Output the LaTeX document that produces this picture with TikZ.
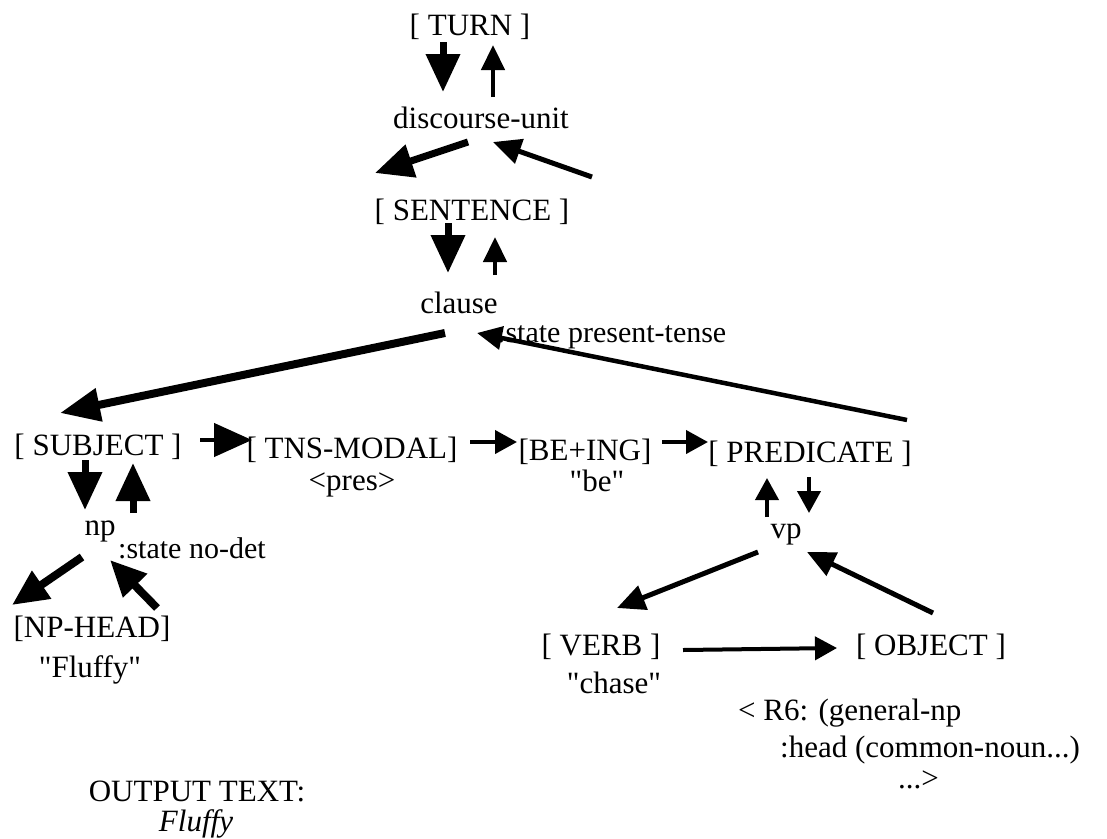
\documentclass[tikz,border=0pt]{standalone}
\usepackage{fontspec}
\setmainfont{Liberation Serif}[Ligatures=TeXOff]
\usetikzlibrary{arrows.meta}
\begin{document}
\begin{tikzpicture}[x=1pt,y=-1pt,
  txt/.style={inner sep=0pt,anchor=base,font=\fontsize{31}{37}\selectfont},
  sub/.style={inner sep=0pt,anchor=base west,font=\fontsize{30}{36}\selectfont},
  thick arr/.style={line width=7pt,-{Triangle[length=38pt,width=33pt]}},
  heavy arr/.style={line width=8pt,-{Triangle[length=40pt,width=32pt]}},
  thin arr/.style={line width=4.5pt,-{Triangle[length=25pt,width=23pt]}},
  mid arr/.style={line width=5pt,-{Triangle[length=28pt,width=25pt]}},
  small arr/.style={line width=4pt,-{Triangle[length=22pt,width=23pt]}},
  fat head arr/.style={line width=4.5pt,-{Triangle[length=38pt,width=33pt]}},
  np arr/.style={line width=8pt,-{Triangle[length=36pt,width=32pt]}}]
\useasboundingbox (0,0) rectangle (1107,838);
% nodes
\node[txt] (turn) at (470,35) {[ TURN ]};
\node[txt] (du) at (481,128) {discourse-unit};
\node[txt] (sent) at (472,220) {[ SENTENCE ]};
\node[txt] (clause) at (459,313) {clause};
\node[sub] (cst) at (497,342) {:state present-tense};
\node[txt] (subj) at (98,455) {[ SUBJECT ]};
\node[txt] (tns) at (352,458) {[ TNS-MODAL]};
\node[txt] (pres) at (352,490) {<pres>};
\node[txt] (be) at (585,460) {[BE+ING]};
\node[txt] (beq) at (597,491) {"be"};
\node[txt] (pred) at (810,462) {[ PREDICATE ]};
\node[txt] (np) at (100,535) {np};
\node[sub] (npst) at (118,558) {:state no-det};
\node[txt] (nphead) at (92,637) {[NP-HEAD]};
\node[txt] (fluffyq) at (90,677) {"Fluffy"};
\node[txt] (vp) at (786,538) {vp};
\node[txt] (verb) at (601,655) {[ VERB ]};
\node[txt] (chase) at (614,693) {"chase"};
\node[txt] (obj) at (931,655) {[ OBJECT ]};
\node[txt,anchor=base west] (r6a) at (738,720) {< R6: (general-np};
\node[txt,anchor=base west] (r6b) at (780,757) {:head (common-noun...)};
\node[txt,anchor=base west] (r6c) at (898,788) {...>};
\node[txt] (out) at (197,801) {OUTPUT TEXT:};
\node[txt] (outf) at (196,831) {\itshape Fluffy};
% connectors
\draw[thick arr] ([shift={(-27,7)}]turn.base) -- ([shift={(-38,-36)}]du.base);
\draw[thin arr] ([shift={(12,-31)}]du.base) -- ([shift={(23,10)}]turn.base);
\draw[thick arr] ([shift={(-13,14)}]du.base) -- ([shift={(-97,-47)}]sent.base);
\draw[mid arr] ([shift={(120,-43)}]sent.base) -- ([shift={(12,14)}]du.base);
\draw[thick arr] ([shift={(-24,3)}]sent.base) -- ([shift={(-11,-40)}]clause.base);
\draw[thin arr] ([shift={(36,-38)}]clause.base) -- ([shift={(23,17)}]sent.base);
\draw[heavy arr] ([shift={(-14,20)}]clause.base) -- ([shift={(-38,-42)}]subj.base);
\draw[thin arr] ([shift={(97,-42)}]pred.base) -- ([shift={(18,20)}]clause.base);
\draw[fat head arr] ([shift={(102,-15)}]subj.base) -- ([shift={(-100,-18)}]tns.base);
\draw[small arr] ([shift={(118,-16)}]tns.base) -- ([shift={(-68,-18)}]be.base);
\draw[small arr] ([shift={(77,-18)}]be.base) -- ([shift={(-102,-20)}]pred.base);
\draw[thick arr] ([shift={(-13,5)}]subj.base) -- ([shift={(-15,-25)}]np.base);
\draw[thick arr] ([shift={(33,-22)}]np.base) -- ([shift={(35,8)}]subj.base);
\draw[np arr] ([shift={(-18,22)}]np.base) -- ([shift={(-80,-32)}]nphead.base);
\draw[np arr] ([shift={(65,-29)}]nphead.base) -- ([shift={(10,25)}]np.base);
\draw[small arr] ([shift={(-19,-21)}]vp.base) -- ([shift={(-43,16)}]pred.base);
\draw[small arr] ([shift={(-1,15)}]pred.base) -- ([shift={(23,-25)}]vp.base);
\draw[mid arr] ([shift={(-28,14)}]vp.base) -- ([shift={(16,-47)}]verb.base);
\draw[mid arr] ([shift={(2,-42)}]obj.base) -- ([shift={(21,14)}]vp.base);
\draw[small arr] ([shift={(82,-5)}]verb.base) -- ([shift={(-94,-7)}]obj.base);
\end{tikzpicture}
\end{document}
